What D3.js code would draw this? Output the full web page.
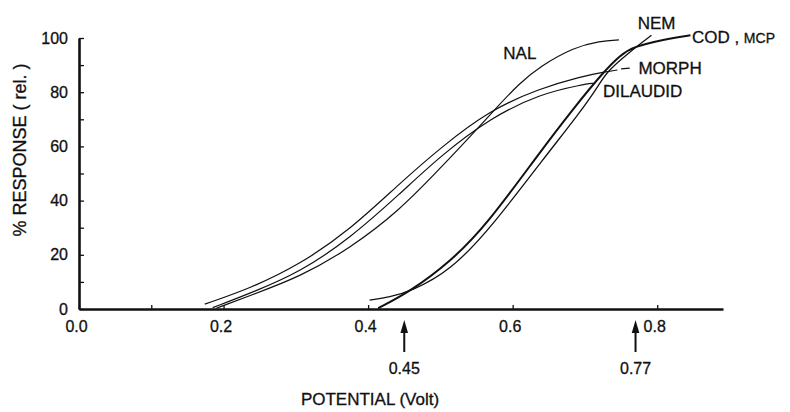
<!DOCTYPE html>
<html lang="en">
<head>
  <meta charset="UTF-8">
  <title>Response vs potential</title>
  <script src="https://d3js.org/d3.v7.min.js"></script>
  <style>
    body { margin: 0; background: #fff; }
    text { font-family: "Liberation Sans", Arial, Helvetica, sans-serif; fill: #111; stroke: #111; stroke-width: 0.3px; }
  </style>
</head>
<body>

<script>
  // curves: [potential (V), % response]
  const morph = [[0.174, 1.8], [0.237, 7.6], [0.306, 16.5], [0.375, 29.2], [0.444, 46.4], [0.50, 59.5],
                 [0.569, 73.5], [0.638, 81.4], [0.693, 85.7], [0.730, 87.6], [0.745, 88.2]];
  const dilaudid = [[0.185, 0.5], [0.237, 5.8], [0.306, 13.6], [0.375, 26.1], [0.444, 42.5], [0.50, 56.5],
                    [0.569, 70.5], [0.638, 79.4], [0.698, 82.9], [0.712, 83.3]];
  const nal = [[0.19, 0.3], [0.237, 5.0], [0.306, 11.9], [0.375, 22.4], [0.444, 36.5], [0.50, 52],
               [0.546, 65], [0.573, 73], [0.61, 83.5], [0.638, 89.5], [0.684, 96.5], [0.721, 98.9], [0.747, 99.3]];
  const nem = [[0.402, 3.3], [0.43, 4.4], [0.458, 6.4], [0.514, 14], [0.573, 31], [0.643, 55.6],
               [0.694, 72.8], [0.719, 82.5], [0.730, 87.5], [0.76, 94.5], [0.792, 101]];
  const codMcp = [[0.414, 0.3], [0.458, 6.4], [0.514, 17.5], [0.564, 31], [0.638, 58], [0.684, 74],
                  [0.726, 87.6], [0.749, 93.7], [0.767, 96.8], [0.809, 99.5], [0.846, 101]];

  const yTicks = [0, 10, 20, 30, 40, 50, 60, 70, 80, 90, 100];
  const xTicks = [0, 0.1, 0.2, 0.4, 0.6, 0.8];
  const xLabels = [0, 0.2, 0.4, 0.6, 0.8];
  const markers = [0.45, 0.77];

  function chart() {
    const width = 790;
    const height = 412;

    const svg = d3.select("body")
      .append("svg")
      .attr("width", width)
      .attr("height", height);

    // scales
    const x = d3.scaleLinear().domain([0, 0.891]).range([79, 723]);
    const y = d3.scaleLinear().domain([0, 100]).range([309, 38]);

    // eixo y
    const yAxis = svg.append("g")
      .attr("transform", `translate(${x(0)}, 0)`)
      .call(d3.axisLeft(y)
        .tickValues(yTicks)
        .tickSizeInner(-5)
        .tickSizeOuter(0)
        .tickPadding(11)
        .tickFormat(d => d % 20 === 0 ? d : ""));
    yAxis.select(".domain").attr("stroke-width", 2.6).attr("stroke", "#111");
    yAxis.selectAll(".tick line").attr("stroke-width", 1.3).attr("stroke", "#111");
    yAxis.selectAll(".tick text").style("font-size", "16px");

    // eixo x
    const xAxis = svg.append("g")
      .attr("transform", `translate(0, ${y(0)})`)
      .call(d3.axisBottom(x)
        .tickValues(xTicks)
        .tickSizeInner(-4)
        .tickSizeOuter(0)
        .tickPadding(12)
        .tickFormat(d => xLabels.includes(d) ? d3.format(".1f")(d) : ""));
    xAxis.select(".domain").attr("stroke-width", 2.6).attr("stroke", "#111");
    xAxis.selectAll(".tick line").attr("stroke-width", 1.3).attr("stroke", "#111");
    xAxis.selectAll(".tick text").style("font-size", "16px").attr("dx", -3);

    // curvas
    const line = d3.line()
      .x(d => x(d[0]))
      .y(d => y(d[1]))
      .curve(d3.curveBasis);

    const series = [
      { data: morph, w: 1.2 },
      { data: dilaudid, w: 1.2 },
      { data: nal, w: 1.2 },
      { data: nem, w: 1.3 },
      { data: codMcp, w: 2.0 }
    ];
    svg.selectAll("path.curve")
      .data(series)
      .enter()
      .append("path")
      .attr("class", "curve")
      .attr("d", d => line(d.data))
      .attr("fill", "none")
      .attr("stroke", "#111")
      .attr("stroke-width", d => d.w);

    // small leader from MORPH curve to its label
    svg.append("line")
      .attr("x1", x(0.75)).attr("x2", x(0.762))
      .attr("y1", y(88.6)).attr("y2", y(88.9))
      .attr("stroke", "#111").attr("stroke-width", 1.2);

    // rótulos das curvas
    const lab = (t, v, r) => svg.append("text")
      .attr("x", x(v)).attr("y", y(r))
      .style("font-size", "17px")
      .text(t);
    lab("NAL", 0.587, 92.3);
    lab("NEM", 0.773, 103.3);
    lab("MORPH", 0.774, 86.7);
    lab("DILAUDID", 0.725, 78.2);
    const cod = lab("COD , ", 0.848, 98.2);
    cod.append("tspan").style("font-size", "14px").text("MCP");

    // setas 0.45 e 0.77
    const mk = svg.selectAll("g.marker")
      .data(markers)
      .enter()
      .append("g")
      .attr("class", "marker")
      .attr("transform", d => `translate(${x(d)}, 0)`);
    mk.append("line")
      .attr("y1", 330).attr("y2", 352)
      .attr("stroke", "#111").attr("stroke-width", 2);
    mk.append("path")
      .attr("d", "M0,320 L3.8,333 L-3.8,333 Z")
      .attr("fill", "#111");
    mk.append("text")
      .attr("y", 374)
      .attr("text-anchor", "middle")
      .style("font-size", "16px")
      .text(d => d);

    // títulos dos eixos
    svg.append("text")
      .attr("x", 370)
      .attr("y", 405)
      .attr("text-anchor", "middle")
      .style("font-size", "17px")
      .text("POTENTIAL (Volt)");

    svg.append("text")
      .attr("transform", `translate(26, ${150}) rotate(-90)`)
      .attr("text-anchor", "middle")
      .style("font-size", "18px")
      .text("% RESPONSE  ( rel. )");
  }

  chart();
</script>

</body>
</html>
